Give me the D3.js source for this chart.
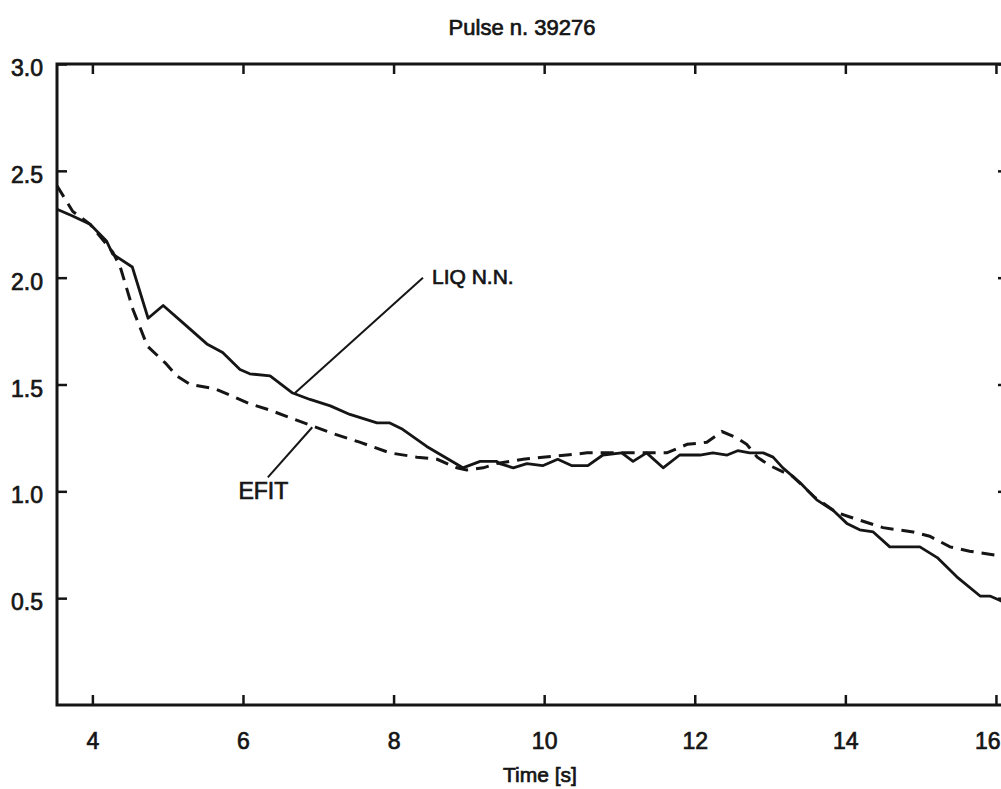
<!DOCTYPE html>
<html>
<head>
<meta charset="utf-8">
<script src="https://cdn.jsdelivr.net/npm/d3@7"></script>
<style>
  body { margin: 0; background: #fff; }
  text { font-family: "Liberation Sans", Arial, sans-serif; fill: #151515; stroke: #151515; stroke-width: 0.7px; }
</style>
</head>
<body>
<svg id="chart" width="1001" height="789"></svg>
<script>
// data
const liqTime = [3.53, 3.73, 3.97, 4.19, 4.27, 4.53, 4.74, 4.94, 5.23, 5.52, 5.73, 5.96, 6.09, 6.36, 6.66, 6.89,
  7.16, 7.42, 7.78, 7.95, 8.12, 8.44, 8.92, 9.15, 9.37, 9.41, 9.59, 9.77, 9.98, 10.18, 10.37, 10.58, 10.78,
  11.03, 11.18, 11.36, 11.58, 11.80, 12.07, 12.24, 12.43, 12.57, 12.73, 12.91, 13.04, 13.17, 13.40, 13.62,
  13.84, 14.02, 14.19, 14.37, 14.59, 14.99, 15.22, 15.48, 15.79, 15.92, 16.05, 16.16];
const liqValue = [2.32, 2.29, 2.25, 2.17, 2.11, 2.05, 1.81, 1.87, 1.78, 1.69, 1.65, 1.57, 1.55, 1.54, 1.46, 1.43,
  1.40, 1.36, 1.32, 1.32, 1.29, 1.21, 1.11, 1.14, 1.14, 1.13, 1.11, 1.13, 1.12, 1.15, 1.12, 1.12, 1.17,
  1.18, 1.14, 1.18, 1.11, 1.17, 1.17, 1.18, 1.17, 1.19, 1.18, 1.18, 1.16, 1.11, 1.04, 0.96,
  0.91, 0.85, 0.82, 0.81, 0.74, 0.74, 0.69, 0.60, 0.51, 0.51, 0.49, 0.47];

const efitTime = [3.53, 3.74, 3.97, 4.27, 4.37, 4.54, 4.73, 4.97, 5.12, 5.30, 5.63, 6.09, 6.36, 6.66, 6.89, 7.20,
  7.55, 7.95, 8.31, 8.58, 8.84, 8.97, 9.19, 9.37, 9.72, 9.98, 10.30, 10.57, 10.87, 11.10, 11.36, 11.63,
  11.90, 12.16, 12.36, 12.56, 12.69, 12.83, 13.00, 13.30, 13.60, 13.89, 14.06, 14.50, 14.90, 15.12, 15.39,
  15.65, 16.01, 16.16];
const efitValue = [2.43, 2.31, 2.25, 2.12, 2.05, 1.85, 1.68, 1.60, 1.54, 1.50, 1.48, 1.41, 1.38, 1.34, 1.31, 1.27,
  1.23, 1.18, 1.16, 1.15, 1.11, 1.10, 1.11, 1.13, 1.15, 1.16, 1.17, 1.18, 1.18, 1.18, 1.18, 1.18,
  1.22, 1.23, 1.28, 1.25, 1.22, 1.16, 1.12, 1.07, 0.97, 0.90, 0.88, 0.83, 0.81, 0.79, 0.74,
  0.72, 0.70, 0.70];

const xTicks = [4, 6, 8, 10, 12, 14, 16];
const yTicks = [0.5, 1.0, 1.5, 2.0, 2.5, 3.0];

const titleText = "Pulse n. 39276";
const xLabel = "Time [s]";

const svg = d3.select("#chart");

const padL = 57, padR = 1008, padT = 64, padB = 705;

const x = d3.scaleLinear().domain([3.53, 16.16]).range([padL, padR]);
const y = d3.scaleLinear().domain([0, 3]).range([padB, padT]);

// frame
svg.append("rect")
  .attr("x", padL).attr("y", padT)
  .attr("width", padR - padL).attr("height", padB - padT)
  .attr("fill", "none")
  .attr("stroke", "#151515")
  .attr("stroke-width", 3);

// axes, ticks pointing inward
const fmt = d3.format(".1f");

const gLeft = svg.append("g").attr("transform", `translate(${padL},0)`)
  .call(d3.axisLeft(y).tickValues(yTicks).tickFormat(fmt).tickSizeInner(-10).tickSizeOuter(0).tickPadding(14));
const gRight = svg.append("g").attr("transform", `translate(${padR},0)`)
  .call(d3.axisRight(y).tickValues(yTicks).tickFormat("").tickSizeInner(-10).tickSizeOuter(0));
const gBottom = svg.append("g").attr("transform", `translate(0,${padB})`)
  .call(d3.axisBottom(x).tickValues(xTicks).tickSizeInner(-10).tickSizeOuter(0).tickPadding(28));
const gTop = svg.append("g").attr("transform", `translate(0,${padT})`)
  .call(d3.axisTop(x).tickValues(xTicks).tickFormat("").tickSizeInner(-10).tickSizeOuter(0));

[gLeft, gRight, gBottom, gTop].forEach(g => {
  g.select(".domain").remove();
  g.selectAll(".tick line").attr("stroke", "#151515").attr("stroke-width", 2.5);
  g.selectAll(".tick text")
    .attr("fill", "#151515")
    .style("font-size", "23px");
});
// scan puts the y labels a little below their ticks
gLeft.selectAll(".tick text").attr("dy", "0.5em");
// last x label sits at the page edge: keep it inside
gBottom.selectAll(".tick text")
  .filter(d => d === 16)
  .attr("text-anchor", "end")
  .attr("x", 1000 - x(16));

// lines
const line = d3.line()
  .x(d => x(d[0]))
  .y(d => y(d[1]));

const liq = liqTime.map((t, i) => [t, liqValue[i]]);
const efit = efitTime.map((t, i) => [t, efitValue[i]]);

svg.append("path")
  .datum(efit)
  .attr("d", line)
  .attr("fill", "none")
  .attr("stroke", "#151515")
  .attr("stroke-width", 3)
  .attr("stroke-dasharray", "13,8");

svg.append("path")
  .datum(liq)
  .attr("d", line)
  .attr("fill", "none")
  .attr("stroke", "#151515")
  .attr("stroke-width", 2.8)
  .attr("stroke-linejoin", "round");

// annotations with leader lines
svg.append("line")
  .attr("x1", x(6.69)).attr("y1", y(1.46))
  .attr("x2", x(8.39)).attr("y2", y(2.0))
  .attr("stroke", "#151515").attr("stroke-width", 2);
svg.append("text")
  .attr("x", x(8.51)).attr("y", y(1.97))
  .style("font-size", "21px")
  .text("LIQ N.N.");

svg.append("line")
  .attr("x1", x(6.92)).attr("y1", y(1.30))
  .attr("x2", x(6.33)).attr("y2", y(1.065))
  .attr("stroke", "#151515").attr("stroke-width", 2);
svg.append("text")
  .attr("x", x(6.27)).attr("y", y(0.965))
  .attr("text-anchor", "middle")
  .style("font-size", "23px")
  .text("EFIT");

// title and axis label
svg.append("text")
  .attr("x", 522).attr("y", 35)
  .attr("text-anchor", "middle")
  .style("font-size", "22px")
  .text(titleText);

svg.append("text")
  .attr("x", 540).attr("y", 782)
  .attr("text-anchor", "middle")
  .style("font-size", "21px")
  .text(xLabel);
</script>
</body>
</html>
